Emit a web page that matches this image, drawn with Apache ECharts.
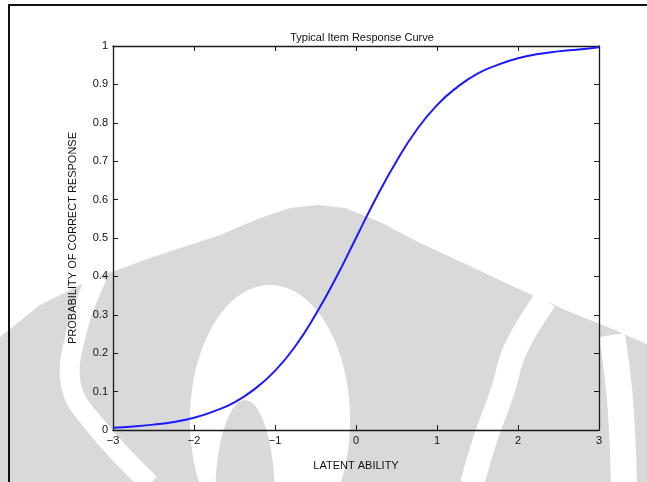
<!DOCTYPE html>
<html>
<head>
<meta charset="utf-8">
<script src="https://cdn.jsdelivr.net/npm/echarts@6/dist/echarts.min.js"></script>
<style>
html,body{margin:0;padding:0;background:#fff;}
#c{width:647px;height:482px;}
</style>
</head>
<body>
<div id="c"></div>
<script>
// Data
var abilityValues = [-3, -2.75, -2.5, -2.25, -2, -1.75, -1.5, -1.25, -1, -0.75, -0.5, -0.25, 0, 0.25, 0.5, 0.75, 1, 1.25, 1.5, 1.75, 2, 2.25, 2.5, 2.75, 3];
var probabilityValues = [0.006, 0.009, 0.014, 0.021, 0.032, 0.049, 0.072, 0.107, 0.154, 0.218, 0.300, 0.395, 0.500, 0.605, 0.700, 0.782, 0.846, 0.893, 0.928, 0.951, 0.968, 0.979, 0.986, 0.991, 0.997];
var xTickLabels = ['\u22123', '\u22122', '\u22121', '0', '1', '2', '3'];
var yTickLabels = ['0', '0.1', '0.2', '0.3', '0.4', '0.5', '0.6', '0.7', '0.8', '0.9', '1'];
var titleText = 'Typical Item Response Curve';
var xName = 'LATENT ABILITY';
var yName = 'PROBABILITY OF CORRECT RESPONSE';

var chart = echarts.init(document.getElementById('c'), null, {renderer: 'canvas'});
var pts = abilityValues.map(function (x, i) { return [x, probabilityValues[i]]; });
var font = 'Liberation Sans, Arial, sans-serif';
var axisCol = '#1a1a1a';
var wm = '#d9d9d9';

function xLabel(v) { return xTickLabels[Math.round(v) + 3]; }
function yLabel(v) { return yTickLabels[Math.round(v * 10)]; }

var tickStyle = {show: true, inside: true, length: 5, lineStyle: {color: axisCol, width: 1}};
var lineStyleAx = {show: true, onZero: false, lineStyle: {color: axisCol, width: 1.3}};

chart.setOption({
  animation: false,
  backgroundColor: '#ffffff',
  title: {
    text: titleText,
    left: 357, top: 27, textAlign: 'center',
    textStyle: {fontFamily: font, fontSize: 11, fontWeight: 'normal', color: '#111'}
  },
  graphic: [
    // faint background watermark (scanned page logo)
    {type: 'polygon', z: -10, silent: true, shape: {points: [[-10,345],[40,305],[90,280],[150,258],[220,235],[260,218],[290,208],[318,205],[345,208],[380,222],[420,243],[470,266],[510,285],[570,312],[615,330],[660,350],[660,490],[-10,490]]}, style: {fill: wm}},
    {type: 'polyline', z: -9, silent: true, shape: {smooth: 0.4, points: [[97,276],[77,330],[71,385],[95,425],[150,484]]}, style: {fill: 'none', stroke: '#fff', lineWidth: 20}},
    {type: 'polyline', z: -9, silent: true, shape: {smooth: 0.4, points: [[545,300],[515,350],[503,390],[485,440],[472,484]]}, style: {fill: 'none', stroke: '#fff', lineWidth: 24}},
    {type: 'polyline', z: -9, silent: true, shape: {smooth: 0.4, points: [[612,335],[620,400],[624,484]]}, style: {fill: 'none', stroke: '#fff', lineWidth: 26}},
    {type: 'ellipse', z: -8, silent: true, shape: {cx: 270, cy: 420, rx: 80, ry: 135}, style: {fill: '#ffffff'}},
    {type: 'ellipse', z: -7, silent: true, shape: {cx: 245, cy: 500, rx: 30, ry: 100}, style: {fill: wm}},
    // page frame
    {type: 'line', z: 10, shape: {x1: 8, y1: 5, x2: 647, y2: 5}, style: {stroke: '#111', lineWidth: 2}},
    {type: 'line', z: 10, shape: {x1: 9, y1: 4, x2: 9, y2: 482}, style: {stroke: '#111', lineWidth: 2}}
  ],
  grid: {left: 113, right: 48, top: 46, bottom: 52, containLabel: false},
  xAxis: [{
    type: 'value', min: -3, max: 3, interval: 1,
    name: xName, nameLocation: 'middle', nameGap: 30,
    nameTextStyle: {fontFamily: font, fontSize: 11, color: '#111'},
    axisLine: lineStyleAx, axisTick: tickStyle,
    axisLabel: {show: true, margin: 5, fontFamily: font, fontSize: 11, color: '#111', formatter: xLabel},
    splitLine: {show: false}
  }, {
    type: 'value', min: -3, max: 3, interval: 1, position: 'top',
    axisLine: lineStyleAx, axisTick: tickStyle,
    axisLabel: {show: false}, splitLine: {show: false}
  }],
  yAxis: [{
    type: 'value', min: 0, max: 1, interval: 0.1,
    name: yName, nameLocation: 'middle', nameGap: 35,
    nameTextStyle: {fontFamily: font, fontSize: 11, color: '#111'},
    axisLine: lineStyleAx, axisTick: tickStyle,
    axisLabel: {show: true, margin: 5, fontFamily: font, fontSize: 11, color: '#111', formatter: yLabel},
    splitLine: {show: false}
  }, {
    type: 'value', min: 0, max: 1, interval: 0.1, position: 'right',
    axisLine: lineStyleAx, axisTick: tickStyle,
    axisLabel: {show: false}, splitLine: {show: false}
  }],
  series: [{
    type: 'line', xAxisIndex: 0, yAxisIndex: 0,
    data: pts, smooth: true, showSymbol: false, symbol: 'none',
    lineStyle: {color: '#1a1aff', width: 2},
    z: 5
  }]
});
</script>
</body>
</html>
